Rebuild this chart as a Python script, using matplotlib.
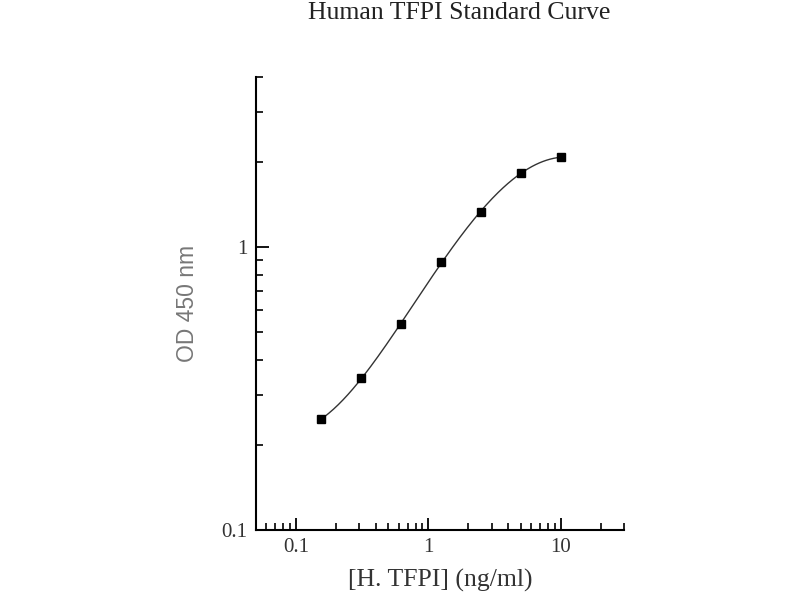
import matplotlib.pyplot as plt
import numpy as np
from matplotlib.ticker import LogLocator, FixedLocator, NullFormatter, FuncFormatter

plt.rcParams['font.family'] = ['Liberation Serif', 'DejaVu Serif']

# standard concentrations (ng/ml) and measured OD
conc = [0.156, 0.312, 0.625, 1.25, 2.5, 5.0, 10.0]
od = [0.247, 0.344, 0.537, 0.885, 1.336, 1.83, 2.08]

# smooth fit in log-log space
lx = np.log10(conc)
ly = np.log10(od)
coef = np.polyfit(lx, ly, 4)
xs = np.linspace(lx[0], lx[-1], 200)
ys = np.polyval(coef, xs)

fig = plt.figure(figsize=(8, 6), dpi=100)
ax = fig.add_axes([0.32, 0.1167, 0.46, 0.755])

ax.plot(10**xs, 10**ys, color='#333333', lw=1.0)
ax.plot(conc, od, 's', color='black', ms=6)

ax.set_xscale('log')
ax.set_yscale('log')
ax.set_xlim(0.05, 30)
ax.set_ylim(0.1, 4)

ax.spines['top'].set_visible(False)
ax.spines['right'].set_visible(False)
for s in ['left', 'bottom']:
    ax.spines[s].set_linewidth(1.5)

fmt = FuncFormatter(lambda v, p: '%g' % v)
ax.xaxis.set_major_locator(FixedLocator([0.1, 1, 10]))
ax.xaxis.set_major_formatter(fmt)
ax.xaxis.set_minor_locator(LogLocator(base=10, subs=np.arange(2, 10)))
ax.xaxis.set_minor_formatter(NullFormatter())
ax.yaxis.set_major_locator(FixedLocator([0.1, 1]))
ax.yaxis.set_major_formatter(fmt)
ax.yaxis.set_minor_locator(LogLocator(base=10, subs=np.arange(2, 10)))
ax.yaxis.set_minor_formatter(NullFormatter())

ax.tick_params(which='major', direction='in', length=9, width=1.3,
               labelsize=15, labelcolor='#333333', pad=6)
ax.tick_params(which='minor', direction='in', length=5, width=1.2)

ax.set_xlabel('[H. TFPI] (ng/ml)', fontsize=18.5, color='#333333', labelpad=8)
ax.set_ylabel('OD 450 nm', fontsize=16.5, color='#777777', labelpad=16,
              family=['Liberation Sans', 'DejaVu Sans'])
fig.text(0.574, 0.978, 'Human TFPI Standard Curve', fontsize=18.5,
         ha='center', va='center', color='#222222')

fig.savefig('out.png', dpi=100)
